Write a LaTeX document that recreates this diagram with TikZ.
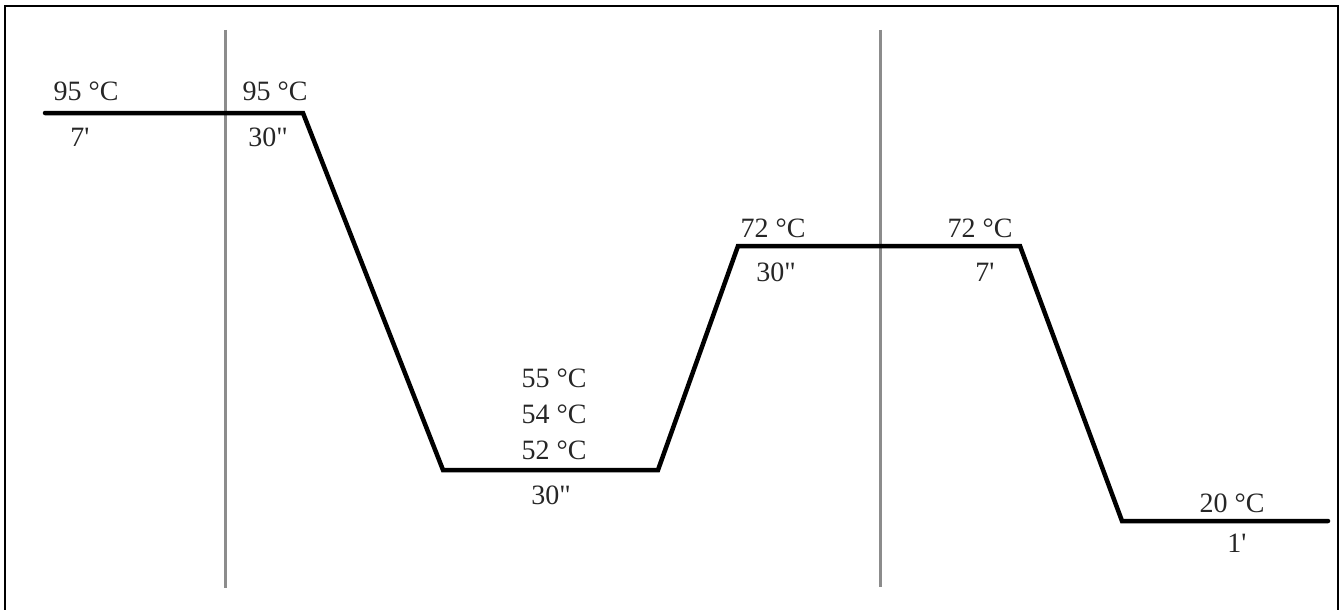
\documentclass[tikz,border=0pt]{standalone}
\usepackage{fontspec}
\setmainfont{Liberation Serif}[Ligatures=TeXOff]
\begin{document}
\begin{tikzpicture}[x=1pt,y=-1pt,
  lbl/.style={inner sep=0pt,font=\fontsize{28}{32}\selectfont,text=black!85},
  profile/.style={line width=4.5pt,line join=miter,line cap=round},
  divider/.style={line width=3pt,color=black!45},
  frame/.style={line width=2.5pt}]
\useasboundingbox (0,0) rectangle (1341,610);
% frame (no bottom edge)
\coordinate (f1) at (5,610);
\coordinate (f2) at (5,6);
\coordinate (f3) at (1338,6);
\coordinate (f4) at (1338,610);
\draw[frame] (f1) -- (f2) -- (f3) -- (f4);
% dividers
\coordinate (d1t) at (225,30);
\coordinate (d1b) at (225,588);
\coordinate (d2t) at (880,30);
\coordinate (d2b) at (880,587);
\draw[divider] (d1t) -- (d1b);
\draw[divider] (d2t) -- (d2b);
% temperature profile
\coordinate (p0) at (45,113);
\coordinate (p1) at (303,113);
\coordinate (p2) at (443,470);
\coordinate (p3) at (658,470);
\coordinate (p4) at (738,246);
\coordinate (p5) at (1020,246);
\coordinate (p6) at (1122,521);
\coordinate (p7) at (1328,521);
\draw[profile] (p0) -- (p1) -- (p2) -- (p3) -- (p4) -- (p5) -- (p6) -- (p7);
% labels
\node[lbl] (t1) at (86,91) {95 °C};
\node[lbl] (d1) at (80,137) {7'};
\node[lbl] (t2) at (275,91) {95 °C};
\node[lbl] (d2) at (268,137) {30"};
\node[lbl] (t3a) at (554,378) {55 °C};
\node[lbl] (t3b) at (554,414) {54 °C};
\node[lbl] (t3c) at (554,450) {52 °C};
\node[lbl] (d3) at (551,495) {30"};
\node[lbl] (t4) at (773,228) {72 °C};
\node[lbl] (d4) at (776,272) {30"};
\node[lbl] (t5) at (980,228) {72 °C};
\node[lbl] (d5) at (985,272) {7'};
\node[lbl] (t6) at (1232,503) {20 °C};
\node[lbl] (d6) at (1237,543) {1'};
\end{tikzpicture}
\end{document}
